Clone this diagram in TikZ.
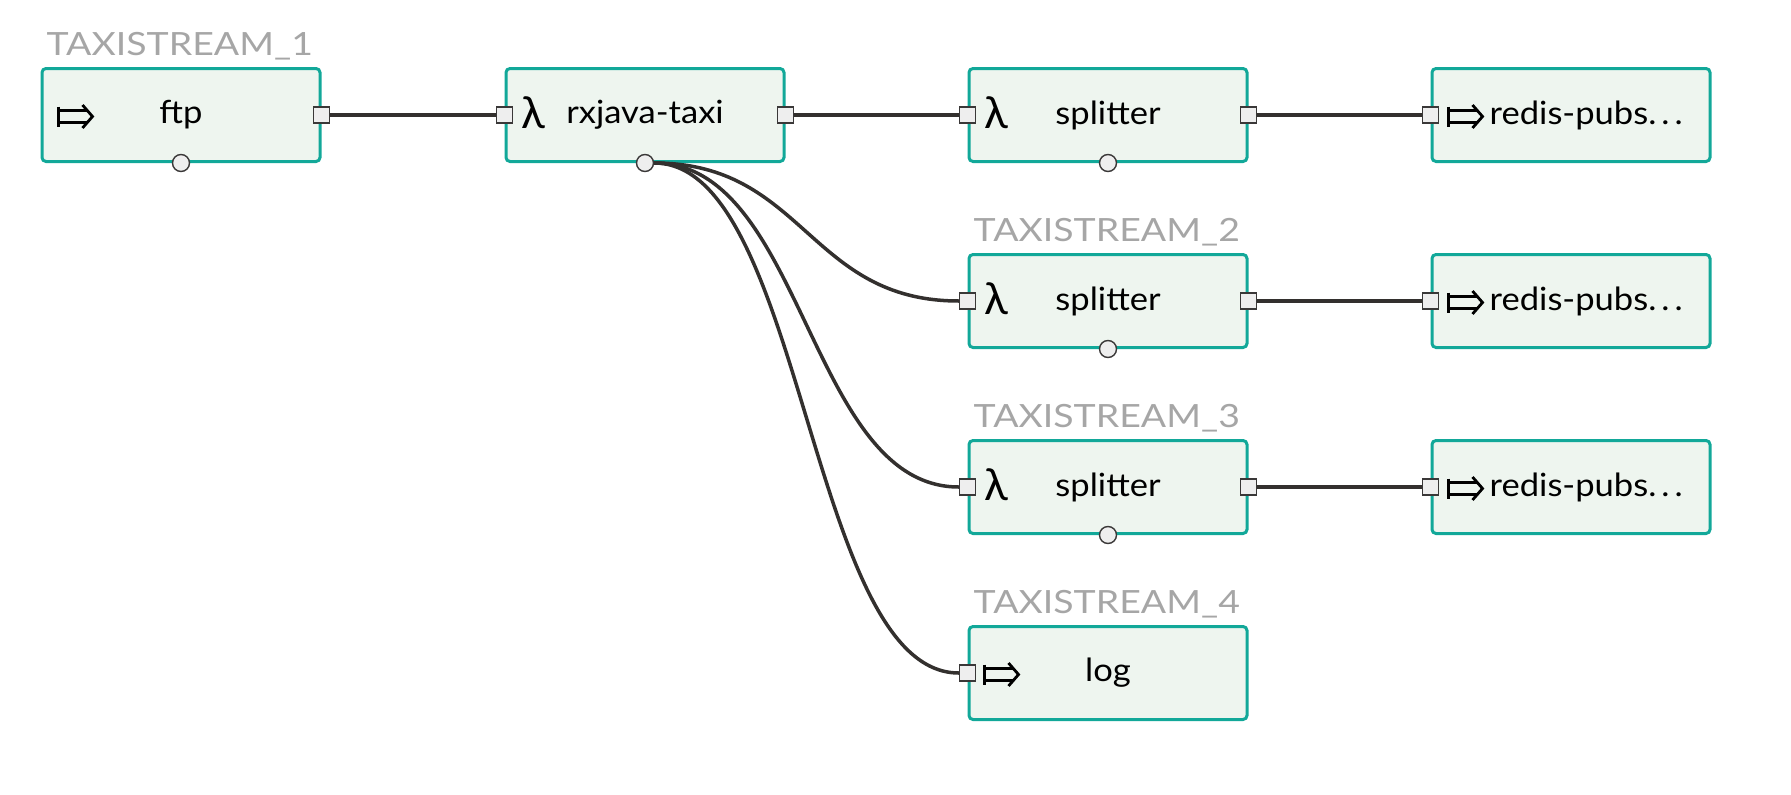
\documentclass[tikz,border=0pt]{standalone}
\usepackage{fontspec}
\setmainfont{Lato}
\newfontfamily\boxfont{Lato}[FakeStretch=1.08]
\newfontfamily\tagfont{Lato}[FakeStretch=1.17]
\definecolor{boxline}{HTML}{12A899}
\definecolor{boxfill}{HTML}{EEF5EF}
\definecolor{portfill}{HTML}{EEEEEE}
\definecolor{portline}{HTML}{3A3838}
\definecolor{wirecol}{HTML}{33302E}
\definecolor{taggray}{HTML}{A6A6A6}
\tikzset{
  srcicon/.pic={
    \draw[line width=3.2pt] (0,-10) -- (0,10);
    \draw[line width=2.8pt] (0,-6) -- (29,-6) (0,6) -- (29,6);
    \draw[line width=2.8pt, line join=miter] (24,-11.5) -- (34,0) -- (24,11.5);
  }
}

\begin{document}
\begin{tikzpicture}[x=1pt, y=-1pt]
\tikzstyle{block}=[draw=boxline, fill=boxfill, line width=3pt, rounded corners=4pt, minimum width=278pt, minimum height=93pt, inner sep=0pt, font=\boxfont\fontsize{32}{32}\selectfont]
\tikzstyle{port}=[draw=portline, fill=portfill, line width=1.4pt, minimum size=16pt, inner sep=0pt]
\tikzstyle{dot}=[circle, draw=portline, fill=portfill, line width=1.4pt, minimum size=17pt, inner sep=0pt]
\tikzstyle{tag}=[text=taggray, font=\tagfont\fontsize{32}{32}\selectfont, inner sep=0pt, anchor=base west]
\tikzstyle{icon}=[font=\fontsize{44}{44}\selectfont, inner sep=0pt, anchor=base west]
\tikzstyle{wire}=[draw=wirecol, line width=3.5pt]
\useasboundingbox (0,0) rectangle (1791,795);

% blocks
\node[block] (ftp) at (181,115) {ftp};
\node[block] (rx) at (645,115) {rxjava-taxi};
\node[block] (sp1) at (1108,115) {splitter};
\node[block] (sp2) at (1108,301) {splitter};
\node[block] (sp3) at (1108,487) {splitter};
\node[block] (log) at (1108,673) {log};
\node[block] (rd1) at (1571,115) {};
\node[block] (rd2) at (1571,301) {};
\node[block] (rd3) at (1571,487) {};

% stream names
\node[tag] (t1) at ([shift={(6,-12)}]ftp.north west) {TAXISTREAM\_1};
\node[tag] (t2) at ([shift={(6,-12)}]sp2.north west) {TAXISTREAM\_2};
\node[tag] (t3) at ([shift={(6,-12)}]sp3.north west) {TAXISTREAM\_3};
\node[tag] (t4) at ([shift={(6,-12)}]log.north west) {TAXISTREAM\_4};

% icons
\pic[black] at ([shift={(18,1.5)}]ftp.west) {srcicon};
\pic[black] at ([shift={(17,1.5)}]log.west) {srcicon};
\node[icon] at ([shift={(17,13)}]rx.west) {λ};
\node[icon] at ([shift={(17,13)}]sp1.west) {λ};
\node[icon] at ([shift={(17,13)}]sp2.west) {λ};
\node[icon] at ([shift={(17,13)}]sp3.west) {λ};
\foreach \r in {rd1,rd2,rd3}{
  \pic[black] at ([shift={(18,1.5)}]\r.west) {srcicon};
  \node[anchor=west, inner sep=0pt, font=\boxfont\fontsize{32}{32}\selectfont] at ([xshift=59pt]\r.west) {redis-pubs.\hspace{5pt}.\hspace{5pt}.};
}

% ports
\node[port] (ftp-out) at (ftp.east) {};
\node[dot] (ftp-err) at (ftp.south) {};
\node[port] (rx-in) at (rx.west) {};
\node[port] (rx-out) at (rx.east) {};
\node[dot] (rx-err) at (rx.south) {};
\foreach \s in {sp1,sp2,sp3}{
  \node[port] (\s-in) at (\s.west) {};
  \node[port] (\s-out) at (\s.east) {};
  \node[dot] (\s-err) at (\s.south) {};
}
\foreach \r in {rd1,rd2,rd3}
  \node[port] (\r-in) at (\r.west) {};
\node[port] (log-in) at (log.west) {};

% wires
\draw[wire] (ftp-out) -- (rx-in);
\draw[wire] (rx-out) -- (sp1-in);
\draw[wire] (sp1-out) -- (rd1-in);
\draw[wire] (sp2-out) -- (rd2-in);
\draw[wire] (sp3-out) -- (rd3-in);
\draw[wire] (rx-err.east) .. controls +(150,0) and +(-150,0) .. (sp2-in.west);
\draw[wire] (rx-err.east) .. controls +(150,0) and +(-150,0) .. (sp3-in.west);
\draw[wire] (rx-err.east) .. controls +(150,0) and +(-150,0) .. (log-in.west);
\end{tikzpicture}
\end{document}
